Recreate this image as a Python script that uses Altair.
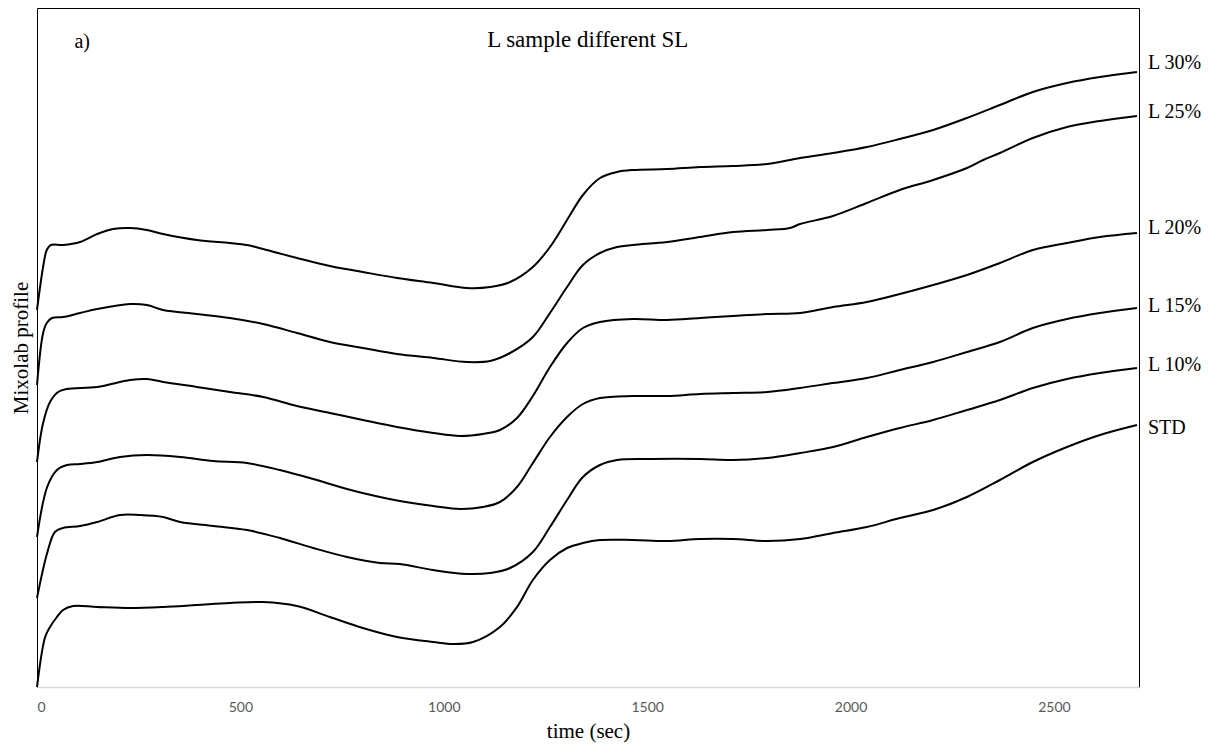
import altair as alt
import pandas as pd

# time (sec) and Mixolab profile (arbitrary units, curves are offset for display)
time_L30 = [0, 15, 24, 34, 64, 106, 148, 187, 229, 270, 310, 393, 474, 516, 556, 639, 720, 801, 885, 974,
            1057, 1114, 1163, 1219, 1261, 1303, 1342, 1384, 1426, 1465, 1549, 1630, 1711, 1795, 1876, 1957,
            2040, 2121, 2203, 2286, 2367, 2448, 2532, 2613, 2704]
val_L30 = [377, 420, 437, 442, 442, 445, 453, 458, 459, 457, 453, 447, 444, 442, 438, 429, 421, 415, 409, 404,
           399, 400, 405, 420, 440, 467, 492, 509, 515, 517, 518, 520, 521, 523, 529, 534,
           540, 548, 557, 569, 582, 595, 604, 610, 615]

time_L25 = [0, 15, 24, 37, 64, 106, 148, 229, 270, 310, 393, 474, 556, 639, 720, 801, 885, 974, 1057, 1114,
            1163, 1219, 1261, 1303, 1342, 1384, 1426, 1465, 1549, 1630, 1711, 1795, 1851, 1876, 1957, 2040,
            2121, 2203, 2286, 2326, 2367, 2448, 2532, 2613, 2704]
val_L25 = [302, 354, 364, 369, 370, 374, 378, 383, 382, 377, 373, 369, 363, 354, 345, 339, 333, 329, 325, 326,
           334, 350, 374, 400, 422, 434, 440, 442, 445, 450, 455, 457, 459, 463, 471, 484,
           497, 507, 519, 527, 534, 549, 560, 566, 571]

time_L20 = [0, 15, 32, 52, 73, 148, 229, 270, 310, 393, 474, 556, 639, 720, 801, 885, 974, 1040, 1096, 1138,
            1180, 1219, 1261, 1303, 1342, 1384, 1465, 1549, 1630, 1711, 1795, 1876, 1957, 2040, 2121, 2203,
            2286, 2367, 2448, 2532, 2613, 2704]
val_L20 = [225, 264, 285, 295, 298, 300, 307, 308, 305, 300, 295, 290, 281, 274, 267, 260, 254, 251, 253, 257,
           269, 291, 320, 344, 359, 365, 368, 367, 369, 371, 373, 374, 380, 385, 393, 402,
           412, 424, 437, 444, 450, 454]

time_L15 = [0, 25, 49, 74, 106, 148, 204, 270, 352, 433, 516, 597, 679, 762, 843, 892, 974, 1040, 1096, 1138,
            1180, 1219, 1261, 1303, 1342, 1384, 1465, 1549, 1630, 1711, 1795, 1876, 1957, 2040, 2121, 2203,
            2286, 2367, 2448, 2532, 2613, 2704]
val_L15 = [150, 200, 217, 222, 223, 225, 230, 232, 230, 226, 224, 217, 208, 198, 190, 186, 181, 178, 180, 185,
           200, 224, 250, 270, 283, 289, 291, 291, 293, 294, 295, 299, 304, 309, 317, 325,
           335, 345, 359, 368, 374, 379]

time_L10 = [0, 25, 44, 64, 106, 148, 204, 253, 310, 352, 433, 516, 597, 679, 762, 843, 892, 974, 1057, 1114,
            1163, 1219, 1261, 1303, 1342, 1384, 1426, 1507, 1630, 1711, 1795, 1876, 1957, 2040, 2121, 2203,
            2286, 2367, 2448, 2532, 2613, 2704]
val_L10 = [89, 134, 155, 159, 161, 165, 172, 172, 170, 165, 161, 157, 149, 139, 130, 124, 123, 117, 113, 114,
           119, 135, 160, 187, 210, 222, 227, 228, 228, 227, 229, 234, 240, 250, 259, 267,
           277, 287, 299, 308, 314, 319]

time_STD = [0, 20, 32, 49, 64, 89, 148, 229, 310, 393, 474, 556, 639, 720, 801, 885, 974, 1023, 1072, 1138,
            1180, 1219, 1261, 1303, 1342, 1384, 1465, 1549, 1630, 1711, 1795, 1876, 1957, 2040, 2121, 2203,
            2286, 2367, 2448, 2532, 2613, 2704]
val_STD = [0, 50, 60, 70, 77, 81, 80, 79, 80, 82, 84, 85, 81, 70, 59, 50, 45, 43, 45, 60,
           80, 107, 127, 139, 144, 147, 147, 146, 148, 148, 146, 148, 154, 160, 169, 177,
           190, 207, 225, 240, 252, 262]

series_names = ["L 30%", "L 25%", "L 20%", "L 15%", "L 10%", "STD"]
series_times = [time_L30, time_L25, time_L20, time_L15, time_L10, time_STD]
series_vals = [val_L30, val_L25, val_L20, val_L15, val_L10, val_STD]

# right-hand label positions (profile units)
label_values = [624, 575, 459, 381, 322, 259]
label_time = 2704

annot_texts = ["a)", "L sample different SL"]
annot_times = [111, 1354]
annot_values = [645, 647]
annot_sizes = [20, 23]

x_ticks = [0, 500, 1000, 1500, 2000, 2500]

rows = []
for name, ts, vs in zip(series_names, series_times, series_vals):
    for t, v in zip(ts, vs):
        rows.append({"series": name, "time": t, "profile": v})
df = pd.DataFrame(rows)

df_labels = pd.DataFrame({"series": series_names,
                          "time": [label_time] * len(series_names),
                          "profile": label_values})
df_annot = pd.DataFrame({"text": annot_texts, "time": annot_times,
                         "profile": annot_values, "size": annot_sizes})

SERIF = "Liberation Serif"

x_enc = alt.X("time:Q",
              scale=alt.Scale(domain=[0, 2709], nice=False, zero=False),
              axis=alt.Axis(values=x_ticks, format="d", title="time  (sec)", grid=False, ticks=False,
                            domainColor="#d9d9d9", domainWidth=1.5,
                            labelColor="#595959", labelFont="Lato", labelFontSize=14,
                            labelPadding=13,
                            titleFont=SERIF, titleFontSize=21, titleFontWeight="normal",
                            titleColor="black", titlePadding=6))
y_enc = alt.Y("profile:Q",
              scale=alt.Scale(domain=[0, 679], nice=False, zero=False),
              axis=alt.Axis(labels=False, ticks=False, grid=False, domain=False,
                            title="Mixolab profile", titleFont=SERIF, titleFontSize=21,
                            titleFontWeight="normal", titleColor="black", titlePadding=6))

lines = alt.Chart(df).mark_line(color="black", strokeWidth=2, interpolate="catmull-rom").encode(
    x=x_enc, y=y_enc, detail="series:N"
)

labels = alt.Chart(df_labels).mark_text(
    align="left", baseline="middle", dx=11, font=SERIF, fontSize=20, color="black"
).encode(x="time:Q", y="profile:Q", text="series:N")

annot = alt.Chart(df_annot).mark_text(
    align="center", baseline="middle", font=SERIF, color="black"
).encode(x="time:Q", y="profile:Q", text="text:N",
         size=alt.Size("size:Q", scale=None, legend=None))

chart = alt.layer(lines, labels, annot).properties(
    width=1102, height=679,
    autosize=alt.AutoSizeParams(type="none"),
    padding={"left": 29, "top": 0, "right": 70, "bottom": 60},
).configure_view(stroke="black", strokeWidth=1)

chart.save("out.html", embed_options={"renderer": "svg", "actions": False})
